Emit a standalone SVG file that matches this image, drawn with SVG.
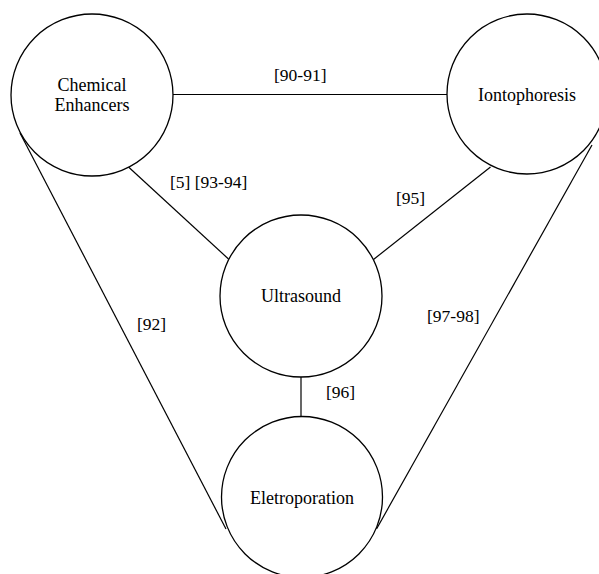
<svg xmlns="http://www.w3.org/2000/svg" width="599" height="574" viewBox="0 0 599 574">
  <style>
    .node circle { fill: #ffffff; stroke: #000000; stroke-width: 1.3; }
    .node text { font-size: 18px; fill: #000000; text-anchor: middle; }
    #connectors line { stroke: #000000; stroke-width: 1.2; fill: none; }
    .label { font-size: 17.5px; fill: #000000; }
  </style>
  <rect width="599" height="574" fill="#ffffff"/>

  <g font-family="'Liberation Serif', 'Times New Roman', serif">
    <!-- links between the four techniques -->
    <g id="connectors">
      <line x1="173" y1="94.5" x2="447" y2="94.5"/>
      <line x1="128.5" y1="167" x2="228.5" y2="259"/>
      <line x1="490.5" y1="167" x2="373.5" y2="259.5"/>
      <line x1="301" y1="377" x2="301" y2="417"/>
      <line x1="20" y1="133" x2="226" y2="529"/>
      <line x1="592" y1="145" x2="376.5" y2="529"/>
    </g>

    <!-- reference labels -->
    <g id="labels">
      <text class="label" x="274" y="81">[90-91]</text>
      <text class="label" x="170" y="188">[5] [93-94]</text>
      <text class="label" x="396" y="204">[95]</text>
      <text class="label" x="137" y="330">[92]</text>
      <text class="label" x="427" y="322">[97-98]</text>
      <text class="label" x="326" y="398">[96]</text>
    </g>

    <g id="chemical-enhancers" class="node">
      <circle cx="92" cy="95" r="81"/>
      <text x="92" y="90.5">Chemical</text>
      <text x="92" y="111">Enhancers</text>
    </g>

    <g id="iontophoresis" class="node">
      <circle cx="527" cy="94" r="80"/>
      <text x="527" y="100.5">Iontophoresis</text>
    </g>

    <g id="ultrasound" class="node">
      <circle cx="301" cy="296" r="81"/>
      <text x="301" y="301.5">Ultrasound</text>
    </g>

    <g id="eletroporation" class="node">
      <circle cx="302" cy="497" r="80.5"/>
      <text x="302" y="504">Eletroporation</text>
    </g>
  </g>
</svg>
